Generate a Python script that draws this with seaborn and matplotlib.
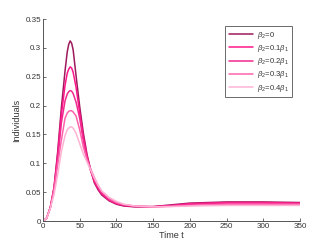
"""
    Infected individuals over time for several beta_2 values.
"""

import pandas as pd
import matplotlib
matplotlib.use("Agg")
import matplotlib.pyplot as plt
import seaborn as sns

# Values
time_t = [0, 5, 10, 15, 20, 25, 30, 33, 35, 37, 39, 41, 45, 50, 55, 60, 65, 70, 75, 80,
          90, 100, 110, 125, 150, 175, 200, 250, 300, 350]

beta_00 = [0, 0.005, 0.024, 0.058, 0.120, 0.196, 0.260, 0.293, 0.306, 0.312, 0.308, 0.297,
           0.252, 0.198, 0.152, 0.115, 0.088, 0.066, 0.054, 0.045, 0.035, 0.029, 0.026,
           0.0245, 0.0250, 0.028, 0.031, 0.033, 0.033, 0.032]
beta_01 = [0, 0.005, 0.024, 0.057, 0.115, 0.184, 0.235, 0.256, 0.263, 0.267, 0.265, 0.258,
           0.232, 0.187, 0.145, 0.112, 0.087, 0.068, 0.056, 0.047, 0.036, 0.030, 0.027,
           0.0250, 0.0248, 0.027, 0.030, 0.032, 0.032, 0.031]
beta_02 = [0, 0.005, 0.023, 0.055, 0.105, 0.170, 0.208, 0.220, 0.224, 0.226, 0.225, 0.221,
           0.206, 0.178, 0.138, 0.108, 0.087, 0.071, 0.058, 0.049, 0.037, 0.031, 0.028,
           0.0255, 0.0246, 0.026, 0.029, 0.031, 0.031, 0.030]
beta_03 = [0, 0.005, 0.023, 0.054, 0.098, 0.140, 0.178, 0.187, 0.190, 0.191, 0.191, 0.189,
           0.182, 0.158, 0.128, 0.106, 0.090, 0.075, 0.062, 0.051, 0.039, 0.032, 0.0285,
           0.0260, 0.0245, 0.0255, 0.027, 0.029, 0.029, 0.029]
beta_04 = [0, 0.005, 0.022, 0.046, 0.080, 0.120, 0.148, 0.158, 0.161, 0.163, 0.163, 0.161,
           0.152, 0.134, 0.116, 0.102, 0.088, 0.074, 0.062, 0.052, 0.041, 0.034, 0.029,
           0.0260, 0.0245, 0.025, 0.026, 0.027, 0.027, 0.027]

LABELS = [r'$\beta_2$=0', r'$\beta_2$=0.1$\beta_1$', r'$\beta_2$=0.2$\beta_1$',
          r'$\beta_2$=0.3$\beta_1$', r'$\beta_2$=0.4$\beta_1$']
COLORS = ["#9e1a5c", "#ff168a", "#f02a8e", "#ff62ac", "#ffb3d4"]

sns.set_theme(style="ticks")
plt.rcParams['font.family'] = ['Liberation Sans', 'DejaVu Sans']
plt.rcParams['mathtext.fontset'] = 'custom'
plt.rcParams['mathtext.it'] = 'Liberation Sans:italic'
plt.rcParams['mathtext.rm'] = 'Liberation Sans'

frames = []
for lab, vals in zip(LABELS, [beta_00, beta_01, beta_02, beta_03, beta_04]):
    frames.append(pd.DataFrame({'t': time_t, 'I': vals, 'case': lab}))
df = pd.concat(frames, ignore_index=True)

fig = plt.figure(figsize=(3.32, 2.49), dpi=100)
ax = fig.add_axes([43 / 332, 1 - 221 / 249, 257 / 332, 202 / 249])

sns.lineplot(data=df, x='t', y='I', hue='case', hue_order=LABELS,
             palette=COLORS, linewidth=1.1, ax=ax)

ax.set_xlim(0, 350)
ax.set_ylim(0, 0.35)
ax.set_xticks(range(0, 351, 50))
yt = [0, 0.05, 0.1, 0.15, 0.2, 0.25, 0.3, 0.35]
ax.set_yticks(yt)
ax.set_yticklabels(['0', '0.05', '0.1', '0.15', '0.2', '0.25', '0.3', '0.35'])

for side in ['top', 'right']:
    ax.spines[side].set_visible(False)
for side in ['left', 'bottom']:
    ax.spines[side].set_color('#555555')
    ax.spines[side].set_linewidth(0.7)
ax.tick_params(direction='in', length=2.5, width=0.6, color='#555555',
               labelsize=5.8, labelcolor='#333333', pad=1.5)

ax.set_xlabel('Time t', fontsize=6.5, color='#333333', labelpad=1)
ax.set_ylabel('Individuals', fontsize=6.5, color='#333333', labelpad=3)

leg = ax.legend(loc='upper right', bbox_to_anchor=(0.975, 0.972), fontsize=5.5,
                frameon=True, fancybox=False, handlelength=3.2, handletextpad=0.45,
                labelspacing=0.3, borderpad=0.45, borderaxespad=0.2, title=None)
leg.get_frame().set_edgecolor('#444444')
leg.get_frame().set_linewidth(0.7)
for t in leg.get_texts():
    t.set_color('#333333')

fig.savefig('out.png', dpi=100)
